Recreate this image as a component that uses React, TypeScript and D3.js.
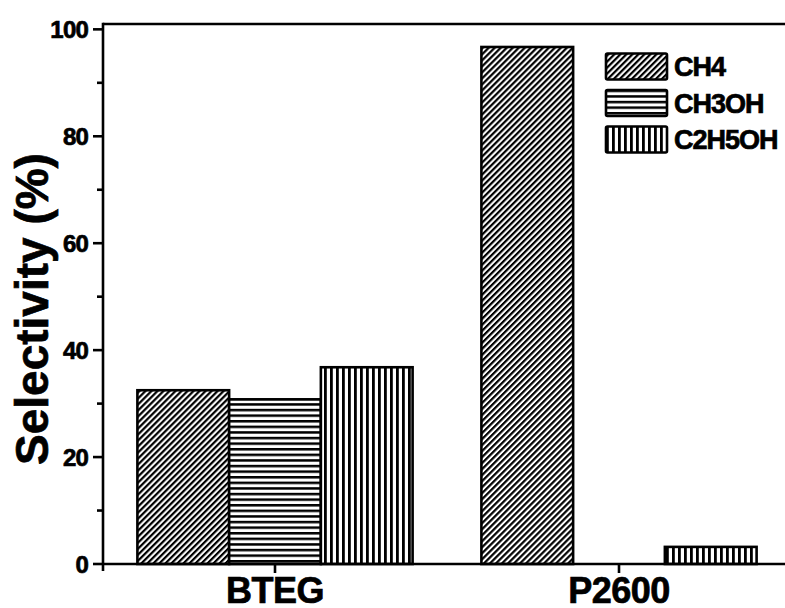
import React from "react";
import * as d3 from "d3";

// Selectivity (%) per sample and product
const categories = ["BTEG", "P2600"];
const seriesNames = ["CH4", "CH3OH", "C2H5OH"];
const ch4Values = [32.5, 96.7];
const ch3ohValues = [30.8, 0];
const c2h5ohValues = [36.8, 3.2];
const yTicks = [0, 20, 40, 60, 80, 100];
const yMinorTicks = [10, 30, 50, 70, 90];

const W = 785;
const H = 608;
const FONT = "'Liberation Sans', Arial, Helvetica, sans-serif";

export default function App() {
  const series = [ch4Values, ch3ohValues, c2h5ohValues];
  const patterns = ["hatchDiag", "hatchHoriz", "hatchVert"];

  const x = d3.scaleLinear().domain([0.5, 2.5]).range([103, 791]);
  const y = d3.scaleLinear().domain([0, 101]).range([564, 24]);
  const barW = 0.8 / 3;

  const left = x(0.5);
  const top = y(101);
  const bottom = y(0);

  // heavier glyphs for the bold labels
  const heavy = { stroke: "#000", strokeWidth: 0.7, fontWeight: "bold" as const };

  return (
    <svg
      width={W}
      height={H}
      style={{ position: "absolute", left: 0, top: 0, background: "#fff" }}
      fontFamily={FONT}
    >
      <defs>
        <pattern id="hatchDiag" patternUnits="userSpaceOnUse" width={4.25} height={10} patternTransform="rotate(45)">
          <rect width={4.25} height={10} fill="#fff" />
          <rect x={0} y={0} width={2.2} height={10} fill="#000" />
        </pattern>
        <pattern id="hatchHoriz" patternUnits="userSpaceOnUse" width={10} height={5.6}>
          <rect width={10} height={5.6} fill="#fff" />
          <rect x={0} y={0} width={10} height={2.5} fill="#000" />
        </pattern>
        <pattern id="hatchVert" patternUnits="userSpaceOnUse" width={6} height={10}>
          <rect width={6} height={10} fill="#fff" />
          <rect x={0} y={0} width={2.8} height={10} fill="#000" />
        </pattern>
        <clipPath id="plotClip">
          <rect x={left} y={0} width={W - left} height={H} />
        </clipPath>
      </defs>

      {/* bars */}
      <g clipPath="url(#plotClip)">
        {categories.map((cat, ci) =>
          series.map((vals, si) => {
            const x0 = x(ci + 1 + (si - 1.5) * barW);
            const x1 = x(ci + 1 + (si - 0.5) * barW);
            const yv = y(vals[ci]);
            return (
              <rect
                key={cat + si}
                x={x0}
                y={yv}
                width={x1 - x0}
                height={bottom - yv}
                fill={`url(#${patterns[si]})`}
                stroke="#000"
                strokeWidth={2.6}
              />
            );
          })
        )}
      </g>

      {/* frame: left axis, bottom axis, top line */}
      <line x1={left} x2={W} y1={top} y2={top} stroke="#000" strokeWidth={2.6} />
      <line x1={left} x2={W} y1={bottom} y2={bottom} stroke="#000" strokeWidth={2.6} />
      <line x1={left} x2={left} y1={top - 1.3} y2={bottom + 7} stroke="#000" strokeWidth={2.6} />

      {/* y ticks */}
      {yTicks.map((t) => (
        <g key={"yt" + t}>
          <line x1={left - 10} x2={left} y1={y(t)} y2={y(t)} stroke="#000" strokeWidth={2.6} />
          <text
            x={left - 15}
            y={y(t)}
            dy="0.36em"
            textAnchor="end"
            fontSize={24}
            letterSpacing={-0.8}
            {...heavy}
          >
            {t}
          </text>
        </g>
      ))}
      {yMinorTicks.map((t) => (
        <line key={"ym" + t} x1={left - 6} x2={left} y1={y(t)} y2={y(t)} stroke="#000" strokeWidth={2.6} />
      ))}

      {/* x ticks */}
      {categories.map((cat, ci) => (
        <g key={"xt" + cat}>
          <line x1={x(ci + 1)} x2={x(ci + 1)} y1={bottom} y2={bottom + 9} stroke="#000" strokeWidth={2.6} />
          <text x={x(ci + 1)} y={603} textAnchor="middle" fontSize={36} letterSpacing={-0.5} {...heavy}>
            {cat}
          </text>
        </g>
      ))}

      {/* y title */}
      <text
        transform={`translate(48, 309) rotate(-90)`}
        textAnchor="middle"
        fontSize={46}
        {...heavy}
      >
        Selectivity (%)
      </text>

      {/* legend */}
      {seriesNames.map((name, si) => {
        const cy = 66.5 + si * 36.5;
        return (
          <g key={"lg" + name}>
            <rect
              x={606}
              y={cy - 13}
              width={61}
              height={26}
              rx={1.5}
              fill={`url(#${patterns[si]})`}
              stroke="#000"
              strokeWidth={2.6}
            />
            <text x={674} y={cy + 9.5} fontSize={27} letterSpacing={-1} {...heavy}>
              {name}
            </text>
          </g>
        );
      })}
    </svg>
  );
}
